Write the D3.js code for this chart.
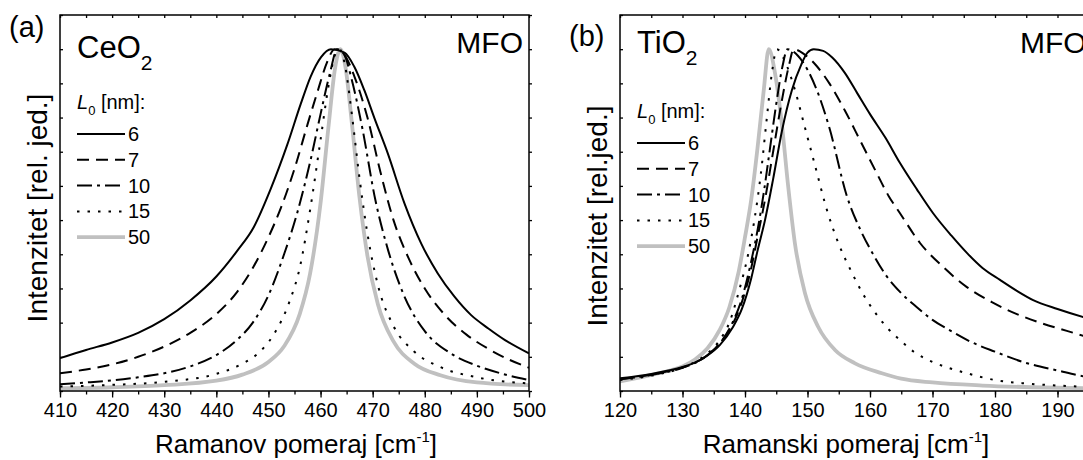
<!DOCTYPE html>
<html>
<head>
<meta charset="utf-8">
<script src="https://cdn.jsdelivr.net/npm/d3@7"></script>
<style>
  body { margin: 0; background: #fff; }
  text { font-family: "Liberation Sans", Arial, sans-serif; fill: #000; }
</style>
</head>
<body>
<svg id="chart"></svg>
<script>
// L0 sizes shown in the legends
const sizes = ["6", "7", "10", "15", "50"];

// (a) CeO2, Raman shift [cm-1] vs normalised intensity
const ceo2_L6 = [[410,0.096],[415,0.12],[420,0.142],[425,0.17],[430,0.21],[435,0.265],[440,0.335],[444,0.41],[447.2,0.48],[450.4,0.59],[453.6,0.72],[456.2,0.84],[458.1,0.92],[460.1,0.977],[462,1.0],[464.6,0.99],[466.5,0.948],[468.4,0.88],[470.3,0.80],[472.9,0.695],[476.1,0.549],[479.3,0.432],[482.5,0.344],[485.7,0.276],[488.9,0.222],[492.2,0.183],[495.4,0.149],[500,0.11]];
const ceo2_L7 = [[410,0.052],[415,0.063],[420,0.078],[425,0.1],[430,0.13],[435,0.17],[440,0.225],[444,0.29],[447,0.36],[450,0.45],[452.5,0.54],[455,0.65],[457.5,0.78],[459.5,0.88],[461.2,0.96],[462.7,1.0],[464.5,0.985],[466.5,0.92],[469,0.8],[471.5,0.64],[474,0.5],[477,0.385],[480,0.3],[484,0.22],[488,0.165],[492,0.125],[496,0.093],[500,0.068]];
const ceo2_L10 = [[410,0.02],[415,0.025],[420,0.031],[425,0.04],[430,0.052],[435,0.072],[440,0.105],[444,0.15],[447,0.2],[450,0.28],[453,0.4],[455.5,0.52],[458,0.67],[460,0.81],[461.8,0.93],[463.2,1.0],[464.5,0.985],[466,0.91],[468,0.77],[470.5,0.56],[473,0.41],[476,0.28],[480,0.175],[485,0.11],[490,0.074],[495,0.05],[500,0.032]];
const ceo2_L15 = [[410,0.013],[420,0.018],[430,0.027],[440,0.05],[445,0.08],[448,0.11],[451,0.165],[454,0.26],[456,0.36],[458,0.53],[460,0.735],[461.5,0.89],[462.7,0.98],[463.6,1.0],[464.6,0.96],[466,0.81],[467.5,0.62],[469,0.46],[471,0.31],[474,0.19],[478,0.115],[483,0.07],[490,0.04],[500,0.022]];
const ceo2_L50 = [[410,0.008],[420,0.011],[430,0.017],[440,0.03],[445,0.048],[450,0.085],[453,0.131],[456,0.225],[458,0.344],[460,0.55],[461.5,0.77],[462.8,0.946],[463.8,1.0],[464.8,0.946],[466,0.785],[467.5,0.563],[469,0.395],[471,0.254],[474,0.145],[478,0.08],[483,0.046],[490,0.025],[500,0.017]];

// (b) TiO2
const tio2_L6 = [[120,0.037],[125,0.05],[130,0.07],[132,0.083],[134,0.104],[136,0.135],[138,0.185],[139.5,0.24],[141,0.33],[142,0.41],[143.2,0.5],[144.5,0.62],[145.9,0.76],[147.5,0.88],[149,0.955],[150,0.99],[151,1.0],[152.5,0.995],[154,0.975],[156,0.93],[158,0.87],[160,0.81],[162.5,0.74],[164.8,0.667],[167.5,0.59],[170.1,0.52],[173,0.455],[175.5,0.404],[178,0.36],[180.8,0.325],[183.5,0.293],[186.1,0.266],[190,0.24],[195,0.212],[200,0.19]];
const tio2_L7 = [[120,0.035],[125,0.048],[130,0.069],[132,0.083],[134,0.105],[136,0.14],[138,0.195],[139.5,0.26],[141,0.36],[142,0.45],[143.2,0.56],[144.5,0.7],[145.8,0.84],[147,0.95],[147.8,1.0],[149.5,0.985],[151.5,0.95],[153.5,0.9],[156,0.82],[158.5,0.73],[161,0.64],[163,0.57],[164.8,0.52],[168,0.433],[171.7,0.363],[175.5,0.304],[179.5,0.26],[183.5,0.225],[187.2,0.2],[191.5,0.176],[195,0.157],[200,0.135]];
const tio2_L10 = [[120,0.034],[125,0.047],[130,0.068],[132,0.082],[134,0.105],[136,0.14],[138,0.2],[139.5,0.27],[141,0.38],[142,0.47],[143,0.58],[144,0.71],[145,0.84],[146,0.95],[146.8,1.0],[148.5,0.98],[150,0.94],[151.5,0.88],[153.5,0.77],[156.3,0.57],[158.5,0.47],[160.5,0.4],[162.5,0.34],[164.8,0.29],[167.5,0.245],[170,0.208],[173,0.175],[176,0.145],[180,0.115],[185,0.082],[190,0.06],[195,0.04],[200,0.03]];
const tio2_L15 = [[120,0.032],[125,0.045],[130,0.068],[132,0.085],[134,0.11],[136,0.15],[137.5,0.2],[139,0.29],[140.5,0.4],[141.5,0.5],[142.5,0.63],[143.5,0.8],[144.3,0.93],[145.1,1.0],[146.5,0.96],[148,0.88],[149.6,0.77],[151.2,0.66],[153.1,0.53],[155,0.43],[157,0.35],[159,0.28],[161,0.225],[163,0.18],[164.8,0.149],[167,0.115],[170,0.085],[172.5,0.068],[175.5,0.052],[180,0.032],[185,0.022],[190,0.016],[195,0.012],[200,0.01]];
const tio2_L50 = [[120,0.028],[124.5,0.045],[128,0.06],[130,0.072],[132,0.092],[134,0.125],[136,0.18],[137.5,0.245],[139,0.35],[140,0.45],[141,0.56],[142,0.71],[143,0.88],[143.8,1.0],[144.8,0.93],[145.9,0.78],[146.9,0.6],[148,0.43],[149.6,0.286],[151.7,0.188],[154.4,0.12],[157.6,0.081],[161.9,0.052],[165,0.036],[170,0.025],[178,0.016],[186,0.011],[195,0.008],[200,0.007]];

const xTicksA = [410, 420, 430, 440, 450, 460, 470, 480, 490, 500];
const xTicksB = [120, 130, 140, 150, 160, 170, 180, 190];

const width = 1083, height = 460;
const svg = d3.select('#chart')
    .attr('width', width)
    .attr('height', height)
    .attr('viewBox', [0, 0, width, height]);

// line styles, in legend order
const styles = [
    {stroke: '#000', width: 2, dash: null},
    {stroke: '#000', width: 2, dash: '12 7'},
    {stroke: '#000', width: 2, dash: '15 5 3 5'},
    {stroke: '#000', width: 2, dash: '2.5 8'},
    {stroke: '#c0c0c0', width: 3.8, dash: null}
];

const yTop = 15, yBottom = 391;

function drawPanel(p) {
    const x = d3.scaleLinear().domain(p.xDomain).range([p.left, p.right]);
    const y = d3.scaleLinear().domain([0, 1.1]).range([yBottom, yTop]);

    const clipId = 'clip-' + p.id;
    svg.append('clipPath').attr('id', clipId)
        .append('rect')
            .attr('x', p.left).attr('y', yTop)
            .attr('width', p.right - p.left).attr('height', yBottom - yTop);

    const line = d3.line()
        .x(d => x(d[0]))
        .y(d => y(d[1]))
        .curve(d3.curveMonotoneX);

    const g = svg.append('g');

    // grey (50 nm) underneath, the black ones over it
    const order = [4, 3, 2, 1, 0];
    order.forEach(i => {
        g.append('path')
            .datum(p.series[i])
            .attr('clip-path', `url(#${clipId})`)
            .attr('d', line)
            .attr('fill', 'none')
            .attr('stroke', styles[i].stroke)
            .attr('stroke-width', styles[i].width)
            .attr('stroke-dasharray', styles[i].dash);
    });

    // axes
    const minor = d3.range(p.xDomain[0], p.xDomain[1] + 0.1, 5);
    const bottom = svg.append('g')
        .attr('transform', `translate(0,${yBottom})`)
        .call(d3.axisBottom(x).tickValues(minor).tickSize(3.5).tickFormat(''));
    bottom.select('.domain').remove();
    bottom.selectAll('line').attr('stroke-width', 1.3);

    const major = svg.append('g')
        .attr('transform', `translate(0,${yBottom})`)
        .call(d3.axisBottom(x).tickValues(p.xTicks).tickSize(6.5).tickPadding(5));
    major.select('.domain').remove();
    major.selectAll('line').attr('stroke-width', 1.3);
    major.selectAll('text')
        .style('font-size', '20px')
        .style('font-family', '"Liberation Sans", Arial, sans-serif');

    const top = svg.append('g')
        .attr('transform', `translate(0,${yTop})`)
        .call(d3.axisBottom(x).tickValues(minor).tickSize(3).tickFormat(''));
    top.select('.domain').remove();
    top.selectAll('line').attr('stroke-width', 1.3);

    const yTicks = d3.range(0, 1.11, 0.1);
    const leftAx = svg.append('g')
        .attr('transform', `translate(${p.left},0)`)
        .call(d3.axisRight(y).tickValues(yTicks).tickSize(3).tickFormat(''));
    leftAx.select('.domain').remove();
    leftAx.selectAll('line').attr('stroke-width', 1.3);

    const rightAx = svg.append('g')
        .attr('transform', `translate(${p.right},0)`)
        .call(d3.axisRight(y).tickValues(yTicks).tickSize(3).tickFormat(''));
    rightAx.select('.domain').remove();
    rightAx.selectAll('line').attr('stroke-width', 1.3);

    svg.append('rect')
        .attr('x', p.left).attr('y', yTop)
        .attr('width', p.right - p.left).attr('height', yBottom - yTop)
        .attr('fill', 'none')
        .attr('stroke', '#000')
        .attr('stroke-width', 1.5);

    // axis titles
    const xt = svg.append('text')
        .attr('x', p.xTitleX).attr('y', 453)
        .attr('text-anchor', 'middle')
        .style('font-size', '26px');
    xt.append('tspan').text(p.xTitle + ' [cm');
    xt.append('tspan').attr('dy', -11).style('font-size', '15px').text('-1');
    xt.append('tspan').attr('dy', 11).text(']');

    svg.append('text')
        .attr('transform', `translate(${p.yTitleX},${p.yTitleY}) rotate(-90)`)
        .attr('text-anchor', 'middle')
        .style('font-size', '28px')
        .text(p.yTitle);

    // panel letter, compound, model
    svg.append('text')
        .attr('x', p.letterX).attr('y', p.letterY)
        .style('font-size', '29px')
        .text(p.letter);

    const comp = svg.append('text')
        .attr('x', p.left + 17).attr('y', p.compY)
        .style('font-size', '31px');
    comp.append('tspan').text(p.compound);
    comp.append('tspan').attr('dy', 12).style('font-size', '21px').text('2');

    svg.append('text')
        .attr('x', p.mfoX).attr('y', 53)
        .attr('text-anchor', p.mfoAnchor)
        .style('font-size', '30px')
        .text('MFO');

    // legend
    const lg = svg.append('g');
    const lt = lg.append('text')
        .attr('x', p.left + 17).attr('y', p.legY - 25)
        .style('font-size', '20px');
    lt.append('tspan').style('font-style', 'italic').text('L');
    lt.append('tspan').attr('dy', 6).style('font-size', '13px').text('0');
    lt.append('tspan').attr('dy', -6).text(' [nm]:');

    sizes.forEach((s, i) => {
        const yy = p.legY + i * 25.8;
        lg.append('line')
            .attr('x1', p.left + 17).attr('x2', p.left + 65)
            .attr('y1', yy).attr('y2', yy)
            .attr('stroke', styles[i].stroke)
            .attr('stroke-width', styles[i].width)
            .attr('stroke-dasharray', styles[i].dash);
        lg.append('text')
            .attr('x', p.left + 68).attr('y', yy + 7)
            .style('font-size', '20px')
            .text(s);
    });
}

drawPanel({
    id: 'a', left: 60, right: 529, xDomain: [410, 500], xTicks: xTicksA,
    series: [ceo2_L6, ceo2_L7, ceo2_L10, ceo2_L15, ceo2_L50],
    xTitle: 'Ramanov pomeraj', xTitleX: 296,
    yTitle: 'Intenzitet [rel. jed.]', yTitleX: 47, yTitleY: 208,
    letter: '(a)', letterX: 9, letterY: 37,
    compound: 'CeO', compY: 58,
    mfoX: 523, mfoAnchor: 'end',
    legY: 134
});

drawPanel({
    id: 'b', left: 620, right: 1120, xDomain: [120, 200], xTicks: xTicksB,
    series: [tio2_L6, tio2_L7, tio2_L10, tio2_L15, tio2_L50],
    xTitle: 'Ramanski pomeraj', xTitleX: 846,
    yTitle: 'Intenzitet [rel.jed.]', yTitleX: 607, yTitleY: 216,
    letter: '(b)', letterX: 569, letterY: 46,
    compound: 'TiO', compY: 53,
    mfoX: 1020, mfoAnchor: 'start',
    legY: 143
});
</script>
</body>
</html>
